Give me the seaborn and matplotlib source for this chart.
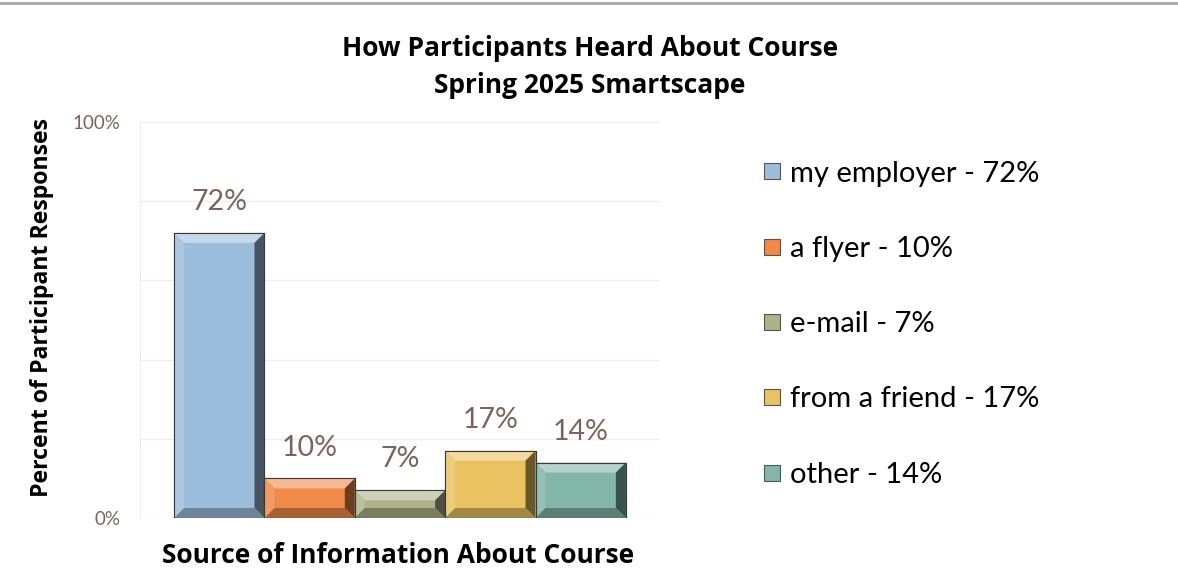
import matplotlib
matplotlib.use("Agg")
import matplotlib.pyplot as plt
import matplotlib.colors as mcolors
from matplotlib.patches import Polygon
from matplotlib.lines import Line2D
import seaborn as sns

# datos del grafico
sources = ["my employer", "a flyer", "e-mail", "from a friend", "other"]
percents = [72, 10, 7, 17, 14]
bar_colors = ["#9DBDDD", "#F08A48", "#AEB288", "#E9C262", "#82B6A8"]
y_ticks = [0, 20, 40, 60, 80, 100]
y_tick_labels = ["0%", "", "", "", "", "100%"]

title = "How Participants Heard About Course\nSpring 2025 Smartscape"
x_title = "Source of Information About Course"
y_title = "Percent of Participant Responses"

label_color = "#7A655C"
bold_font = ["Open Sans", "DejaVu Sans"]

sns.set_style("white")
plt.rcParams["font.family"] = ["Lato", "DejaVu Sans"]
plt.rcParams["text.color"] = "black"

fig = plt.figure(figsize=(11.78, 5.84), dpi=100)
ax = fig.add_axes([0.1188, 0.113, 0.4415, 0.678])

sns.barplot(x=sources, y=percents, hue=sources, palette=bar_colors,
            width=1.0, legend=False, ax=ax, edgecolor="#4A4A4A",
            linewidth=0.8, saturation=1)

ax.set_ylim(0, 100)
ax.set_xlim(-0.878, 4.878)
ax.set_yticks(y_ticks)
ax.set_yticklabels(y_tick_labels)
ax.set_xticks([])
ax.tick_params(axis="y", length=0, labelsize=13.5, labelcolor=label_color, pad=14)
ax.grid(axis="y", color="#EFEFEF", linewidth=1)
ax.set_axisbelow(True)
for side in ["top", "right", "bottom"]:
    ax.spines[side].set_visible(False)
ax.spines["left"].set_color("#EFEFEF")

# efecto bisel en las barras
fig.canvas.draw()
to_disp = ax.transData
to_data = ax.transData.inverted()
bev = 10
for patch, col in zip(ax.patches, bar_colors):
    x0, y0 = patch.get_x(), patch.get_y()
    x1, y1 = x0 + patch.get_width(), y0 + patch.get_height()
    (px0, py0) = to_disp.transform((x0, y0))
    (px1, py1) = to_disp.transform((x1, y1))
    b = min(bev, (py1 - py0) / 2.2)
    outer = [(px0, py0), (px1, py0), (px1, py1), (px0, py1)]
    inner = [(px0 + b, py0 + b), (px1 - b, py0 + b), (px1 - b, py1 - b), (px0 + b, py1 - b)]
    base = mcolors.to_rgb(col)
    light = tuple(c + (1 - c) * 0.4 for c in base)
    mid_l = tuple(c + (1 - c) * 0.15 for c in base)
    dark = tuple(c * 0.45 for c in base)
    mid_d = tuple(c * 0.7 for c in base)
    faces = [
        ([outer[3], outer[2], inner[2], inner[3]], light),   # arriba
        ([outer[0], outer[3], inner[3], inner[0]], mid_l),   # izquierda
        ([outer[1], outer[2], inner[2], inner[1]], dark),    # derecha
        ([outer[0], outer[1], inner[1], inner[0]], mid_d),   # abajo
    ]
    for pts, fc in faces:
        data_pts = to_data.transform(pts)
        ax.add_patch(Polygon(data_pts, closed=True, facecolor=fc,
                             edgecolor="none", zorder=patch.get_zorder() + 0.1))
    ax.add_patch(plt.Rectangle((x0, y0), x1 - x0, y1 - y0, fill=False,
                               edgecolor="#3A3A3A", linewidth=0.8,
                               zorder=patch.get_zorder() + 0.2))

# etiquetas de datos
for i, v in enumerate(percents):
    ax.text(i, v + 4.5, f"{v}%", ha="center", va="bottom",
            fontsize=20.5, color=label_color)

fig.text(0.5009, 0.885, title, ha="center", va="center", fontsize=19,
         fontweight="bold", linespacing=1.45, family=bold_font)
fig.text(0.338, 0.048, x_title, ha="center", va="center", fontsize=19,
         fontweight="bold", family=bold_font)
fig.text(0.036, 0.473, y_title, ha="center", va="center", rotation=90,
         fontsize=16.7, fontweight="bold", family=bold_font)

# leyenda
handles = [Line2D([], [], marker="s", linestyle="none", markersize=12,
                  markerfacecolor=c, markeredgecolor="#555555",
                  markeredgewidth=0.8) for c in bar_colors]
labels = [f"{s} - {p}%" for s, p in zip(sources, percents)]
fig.legend(handles, labels, loc="upper left", bbox_to_anchor=(0.637, 0.745),
           frameon=False, fontsize=21, labelspacing=1.69, handletextpad=0.25,
           handlelength=0.7, borderaxespad=0)

# linea gris superior
fig.add_artist(Line2D([0, 1], [0.9945, 0.9945], color="#A8A8A8",
                      linewidth=2, transform=fig.transFigure))

fig.savefig("out.png", dpi=100)
